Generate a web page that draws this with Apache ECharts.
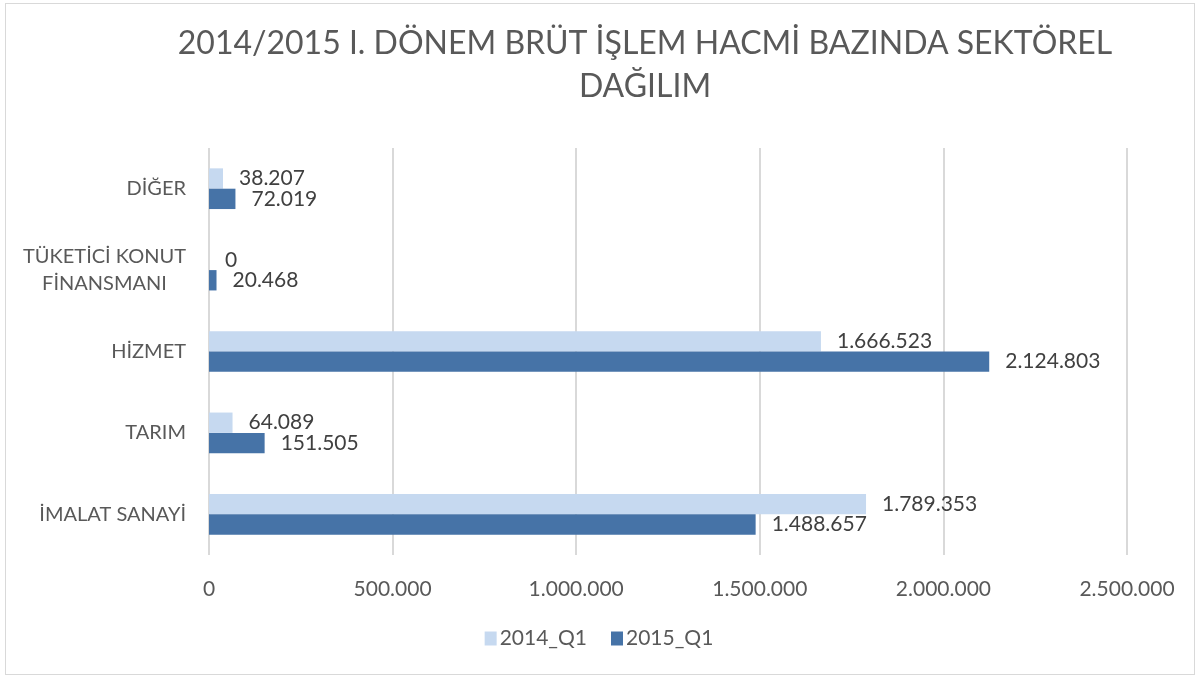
<!DOCTYPE html>
<html>
<head>
<meta charset="utf-8">
<script src="https://cdn.jsdelivr.net/npm/echarts@6/dist/echarts.min.js"></script>
<style>
    html, body { margin: 0; padding: 0; background: #fff; }
    #frame { position: absolute; left: 5px; top: 3px; width: 1190px; height: 672px; border: 1px solid #d9d9d9; box-sizing: border-box; }
    #chart { position: absolute; left: 0; top: 0; width: 1198px; height: 678px; }
</style>
</head>
<body>
<div id="frame"></div>
<div id="chart"></div>
<script>
// kategoriler (alttan üste)
var sektorler = ['İMALAT SANAYİ', 'TARIM', 'HİZMET', 'TÜKETİCİ KONUT\nFİNANSMANI', 'DİĞER'];
var seriAdlari = ['2014_Q1', '2015_Q1'];
var q1_2014 = [1789353, 64089, 1666523, 0, 38207];
var q1_2015 = [1488657, 151505, 2124803, 20468, 72019];

var fontAdi = 'Lato, "Open Sans", sans-serif';

function noktali(v) {
    return String(Math.round(v)).replace(/\B(?=(\d{3})+(?!\d))/g, '.');
}

var chart = echarts.init(document.getElementById('chart'));

var etiket = {
    show: true,
    position: 'right',
    distance: 16,
    color: '#404040',
    fontSize: 21,
    fontFamily: fontAdi,
    formatter: function (p) { return noktali(p.value); }
};

var option = {
    animation: false,
    title: {
        text: '2014/2015 I. DÖNEM BRÜT İŞLEM HACMİ BAZINDA SEKTÖREL\nDAĞILIM',
        left: 640,
        top: 17,
        textAlign: 'center',
        textStyle: {
            color: '#595959',
            fontSize: 32,
            fontWeight: 'normal',
            fontFamily: fontAdi,
            lineHeight: 43
        }
    },
    legend: {
        data: seriAdlari,
        bottom: 24,
        left: 'center',
        itemWidth: 12,
        itemHeight: 14,
        itemGap: 24,
        icon: 'rect',
        textStyle: { color: '#595959', fontSize: 21, fontFamily: fontAdi, padding: [0, 0, 0, -2] }
    },
    grid: { left: 209, right: 71, top: 148, bottom: 123 },
    xAxis: {
        type: 'value',
        min: 0,
        max: 2500000,
        interval: 500000,
        axisLine: { show: false },
        axisTick: { show: false },
        splitLine: { lineStyle: { color: '#d9d9d9', width: 2 } },
        axisLabel: {
            color: '#595959',
            fontSize: 21,
            fontFamily: fontAdi,
            margin: 24,
            formatter: function (v) { return noktali(v); }
        }
    },
    yAxis: {
        type: 'category',
        data: sektorler,
        axisLine: { show: false },
        axisTick: { show: false },
        axisLabel: {
            margin: 23,
            formatter: function (v) {
                return v.split('\n').map(function (s) { return '{a|' + s + '}'; }).join('\n');
            },
            rich: {
                a: { align: 'center', color: '#595959', fontSize: 20, fontFamily: fontAdi, lineHeight: 27 }
            }
        }
    },
    series: [
        {
            name: seriAdlari[0],
            type: 'bar',
            data: q1_2014,
            barGap: '0%',
            barCategoryGap: '50%',
            itemStyle: { color: '#c6d9f0' },
            label: etiket
        },
        {
            name: seriAdlari[1],
            type: 'bar',
            data: q1_2015,
            barGap: '0%',
            barCategoryGap: '50%',
            itemStyle: { color: '#4673a7' },
            label: etiket
        }
    ]
};

chart.setOption(option);
</script>
</body>
</html>
